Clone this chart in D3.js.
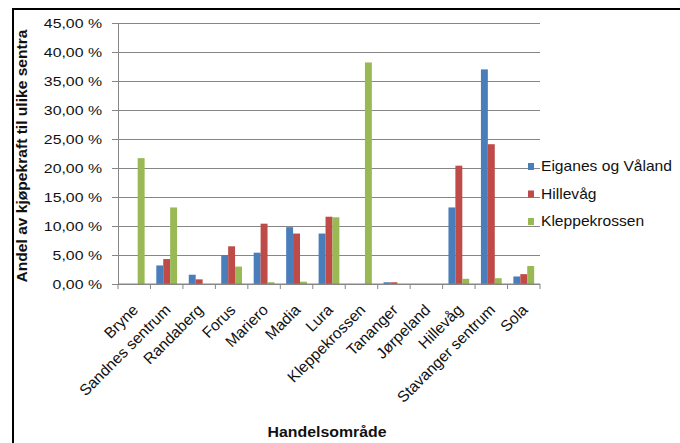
<!DOCTYPE html>
<html>
<head>
<meta charset="utf-8">
<script src="https://cdn.jsdelivr.net/npm/d3@7"></script>
<style>
  body { margin: 0; background: #fff; }
  svg { display: block; font-family: "Liberation Sans", Arial, sans-serif; }
</style>
</head>
<body>
<div id="chart"></div>
<script>
const categories = ['Bryne', 'Sandnes sentrum', 'Randaberg', 'Forus', 'Mariero', 'Madia', 'Lura',
  'Kleppekrossen', 'Tananger', 'Jørpeland', 'Hillevåg', 'Stavanger sentrum', 'Sola'];
const seriesNames = ['Eiganes og Våland', 'Hillevåg', 'Kleppekrossen'];
const seriesColors = ['#4a7ebb', '#be4b48', '#98b954'];
const eiganes = [0, 3.2, 1.6, 5.0, 5.4, 9.8, 8.7, 0, 0.3, 0, 13.2, 37.0, 1.3];
const hillevag = [0, 4.3, 0.8, 6.5, 10.4, 8.7, 11.6, 0, 0.3, 0, 20.4, 24.1, 1.7];
const kleppekrossen = [21.7, 13.2, 0, 3.0, 0.3, 0.4, 11.5, 38.2, 0, 0, 0.9, 1.0, 3.1];
const yTicks = [0, 5, 10, 15, 20, 25, 30, 35, 40, 45];

const values = [eiganes, hillevag, kleppekrossen];
const W = 680, H = 443;
const plot = { left: 118, right: 540, top: 23, bottom: 284 };

const svg = d3.select('#chart').append('svg')
  .attr('width', W)
  .attr('height', H);

// outer frame (only top and left visible)
svg.append('line').attr('x1', 12).attr('x2', W).attr('y1', 9).attr('y2', 9)
  .attr('stroke', '#000').attr('stroke-width', 2);
svg.append('line').attr('x1', 13).attr('x2', 13).attr('y1', 8).attr('y2', H)
  .attr('stroke', '#000').attr('stroke-width', 2);

const x0 = d3.scaleBand()
  .domain(categories)
  .range([plot.left, plot.right])
  .paddingInner(0.36)
  .paddingOuter(0.18);
const x1 = d3.scaleBand()
  .domain(d3.range(seriesNames.length))
  .range([0, x0.bandwidth()]);
const y = d3.scaleLinear().domain([0, 45]).range([plot.bottom, plot.top]);

const fmt = v => d3.format('.2f')(v).replace('.', ',') + ' %';

// stretch text horizontally a bit, the source picture is wider than tall
function stretch(sel, k) {
  sel.each(function () {
    const len = this.getComputedTextLength();
    d3.select(this)
      .attr('textLength', len * k)
      .attr('lengthAdjust', 'spacingAndGlyphs');
  });
}

// gridlines + y ticks
svg.append('g')
  .attr('transform', `translate(${plot.left},0)`)
  .call(d3.axisLeft(y).tickValues(yTicks).tickSize(6).tickFormat(fmt))
  .call(g => g.select('.domain').attr('stroke', '#868686'))
  .call(g => g.selectAll('.tick line').attr('stroke', '#868686'))
  .call(g => g.selectAll('.tick').append('line')
    .attr('x1', 0).attr('x2', plot.right - plot.left)
    .attr('stroke', '#868686'))
  .call(g => g.selectAll('.tick text')
    .attr('x', -16)
    .attr('fill', '#111')
    .style('font-size', '13px')
    .call(stretch, 1.22));

// bars
const step = x0.step();
const groups = svg.append('g')
  .selectAll('g')
  .data(categories)
  .join('g')
  .attr('transform', d => `translate(${x0(d)},0)`);

groups.selectAll('rect')
  .data((d, i) => values.map((s, k) => ({ k, v: s[i] })))
  .join('rect')
  .attr('x', d => x1(d.k))
  .attr('width', x1.bandwidth())
  .attr('y', d => y(d.v))
  .attr('height', d => plot.bottom - y(d.v))
  .attr('fill', d => seriesColors[d.k]);

// x axis line + ticks at category boundaries
const xAxis = svg.append('g');
xAxis.append('line')
  .attr('x1', plot.left).attr('x2', plot.right)
  .attr('y1', plot.bottom).attr('y2', plot.bottom)
  .attr('stroke', '#868686');
xAxis.selectAll('.bt')
  .data(d3.range(categories.length + 1))
  .join('line')
  .attr('class', 'bt')
  .attr('x1', i => plot.left + i * step)
  .attr('x2', i => plot.left + i * step)
  .attr('y1', plot.bottom)
  .attr('y2', plot.bottom + 5)
  .attr('stroke', '#868686');

xAxis.selectAll('text')
  .data(categories)
  .join('text')
  .attr('transform', d => `translate(${x0(d) + x0.bandwidth() / 2 - 3},${plot.bottom + 19}) rotate(-45)`)
  .attr('text-anchor', 'end')
  .attr('dy', '0.72em')
  .attr('fill', '#111')
  .style('font-size', '15.5px')
  .text(d => d);

// axis titles
svg.append('text')
  .attr('transform', `translate(27,156) rotate(-90)`)
  .attr('text-anchor', 'middle')
  .attr('font-weight', 'bold')
  .attr('fill', '#111')
  .style('font-size', '14px')
  .attr('textLength', 253)
  .attr('lengthAdjust', 'spacingAndGlyphs')
  .text('Andel av kjøpekraft til ulike sentra');

svg.append('text')
  .attr('x', 327)
  .attr('y', 437)
  .attr('text-anchor', 'middle')
  .attr('font-weight', 'bold')
  .attr('fill', '#111')
  .style('font-size', '14px')
  .attr('textLength', 119)
  .attr('lengthAdjust', 'spacingAndGlyphs')
  .text('Handelsområde');

// legend
const legend = svg.append('g')
  .selectAll('g')
  .data(seriesNames)
  .join('g')
  .attr('transform', (d, i) => `translate(528,${171 + i * 27.5})`);
legend.append('rect')
  .attr('x', 0).attr('y', -8)
  .attr('width', 6).attr('height', 7)
  .attr('fill', (d, i) => seriesColors[i]);
legend.append('text')
  .attr('x', 13)
  .attr('fill', '#111')
  .style('font-size', '15px')
  .text(d => d)
  .call(stretch, 1.04);
</script>
</body>
</html>
